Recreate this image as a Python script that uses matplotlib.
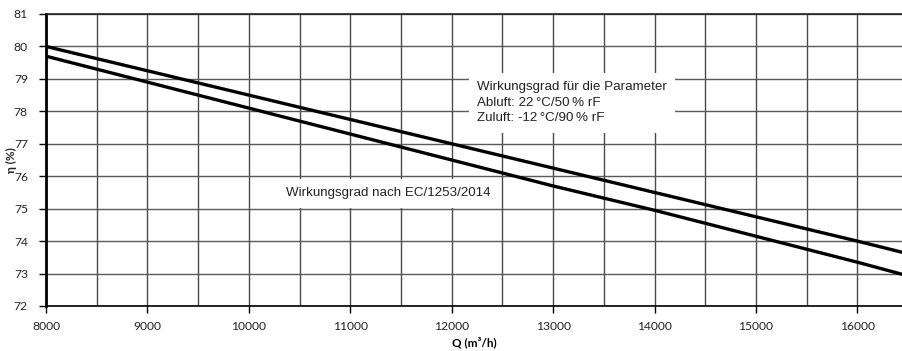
import matplotlib
matplotlib.use("Agg")
import matplotlib.pyplot as plt
from matplotlib.ticker import MultipleLocator

# Airflow (m³/h) and efficiency (%) for the two curves
flow = [8000, 9000, 10000, 11000, 12000, 13000, 14000, 15000, 16000, 16450]
eta_parameter = [80.0, 79.25, 78.5, 77.75, 77.0, 76.25, 75.5, 74.75, 74.0, 73.65]
eta_ec = [79.7, 78.9, 78.1, 77.3, 76.5, 75.7, 74.95, 74.15, 73.35, 72.97]

x_ticks = [8000, 9000, 10000, 11000, 12000, 13000, 14000, 15000, 16000]
y_ticks = [72, 73, 74, 75, 76, 77, 78, 79, 80, 81]

label_parameter = "Wirkungsgrad für die Parameter\nAbluft: 22\u2009°C/50\u2009% rF\nZuluft: -12\u2009°C/90\u2009% rF"
label_ec = "Wirkungsgrad nach EC/1253/2014"

tick_font = ["Lato", "DejaVu Sans"]
text_font = ["Liberation Sans", "DejaVu Sans"]

fig = plt.figure(figsize=(9.03, 3.51), dpi=100)
ax = fig.add_axes([46 / 903, 45 / 351, 1 - 46 / 903, 292 / 351])

ax.set_xlim(8000, 16450)
ax.set_ylim(72, 81)

ax.xaxis.set_minor_locator(MultipleLocator(500))
ax.set_xticks(x_ticks)
ax.set_yticks(y_ticks)

ax.grid(True, which="both", axis="x", color="#4a4a4a", linewidth=1.0)
ax.grid(True, which="major", axis="y", color="#5a5a5a", linewidth=1.0)
ax.set_axisbelow(True)

ax.plot(flow, eta_parameter, color="black", linewidth=2.4, solid_capstyle="butt", zorder=3)
ax.plot(flow, eta_ec, color="black", linewidth=2.4, solid_capstyle="butt", zorder=3)

ax.spines["right"].set_visible(False)
ax.spines["left"].set_linewidth(2.0)
ax.spines["bottom"].set_linewidth(1.2)
ax.spines["top"].set_linewidth(1.2)
ax.spines["top"].set_color("#222222")

ax.tick_params(axis="both", which="major", direction="out", length=5, width=1.0,
               labelsize=8.7, colors="black")
ax.tick_params(axis="x", which="minor", length=0)
ax.tick_params(axis="y", pad=8)
ax.tick_params(axis="x", pad=6)
for lab in ax.get_xticklabels() + ax.get_yticklabels():
    lab.set_fontfamily(tick_font)
    lab.set_color("#222222")

ax.set_xlabel("Q (m³/h)", fontsize=8.5, fontweight="bold", family=tick_font, labelpad=3)
fig.text(11 / 903, 1 - 160 / 351, "η (%)", rotation=90, fontsize=8.5, fontweight="bold",
         family=tick_font, ha="center", va="center", color="#222222")

ax.text(12250, 78.93, label_parameter, fontsize=9.6, family=text_font, color="#222222",
        va="top", ha="left", linespacing=1.4, zorder=4,
        bbox=dict(facecolor="white", edgecolor="none", pad=6))
ax.text(10365, 75.47, label_ec, fontsize=9.6, family=text_font, color="#222222",
        va="center", ha="left", zorder=4,
        bbox=dict(facecolor="white", edgecolor="none", pad=6))

fig.savefig("out.png", dpi=100)
